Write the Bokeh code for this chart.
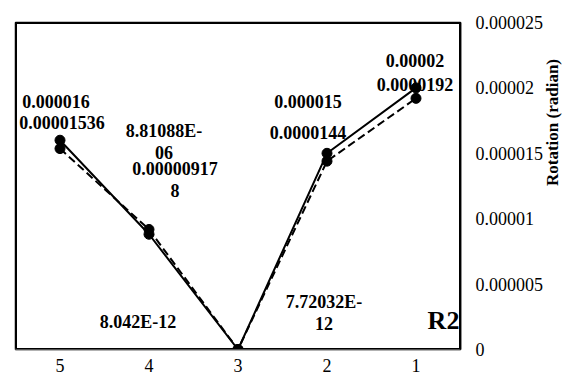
import math
from bokeh.plotting import figure
from bokeh.models import (ColumnDataSource, FactorRange, Range1d, FixedTicker, Label,
                          BoxAnnotation)
from bokeh.core.properties import value
from bokeh.embed import file_html
from bokeh.resources import INLINE

# ---- data ----
categories = ["5", "4", "3", "2", "1"]
solid_values = [0.000016, 8.81088e-06, 8.042e-12, 0.000015, 0.00002]
dashed_values = [0.00001536, 0.000009178, 7.72032e-12, 0.0000144, 0.0000192]
solid_labels = ["0.000016", "8.81088E-06", "8.042E-12", "0.000015", "0.00002"]
dashed_labels = ["0.00001536", "0.000009178", "7.72032E-12", "0.0000144", "0.0000192"]
y_ticks = [0, 0.000005, 0.00001, 0.000015, 0.00002, 0.000025]
y_tick_labels = ["0", "0.000005", "0.00001", "0.000015", "0.00002", "0.000025"]
y_title = "Rotation  (radian)"
panel_tag = "R2"

# label placement offsets (screen px)
solid_dx = [-4, 15, -100, -19, -1]
solid_dy = [-39, -92, -27, -52, -27]
dashed_dx = [2, 26, 86, -19, -1]
dashed_dy = [-26, -49, -36, -29, -14]


def wrap(s):
    if len(s) > 10:
        if "E-" in s:
            i = s.index("E-") + 2
            return s[:i] + "\n" + s[i:]
        return s[:10] + "\n" + s[10:]
    return s


SERIF = value("Liberation Serif")

p = figure(width=574, height=383, x_range=FactorRange(*categories),
           y_range=Range1d(y_ticks[0], y_ticks[-1]), y_axis_location="right",
           output_backend="svg", toolbar_location=None,
           min_border_left=15, min_border_right=100, min_border_top=22, min_border_bottom=34)
p.outline_line_color = "black"
p.outline_line_width = 1.5
p.grid.visible = False
p.background_fill_color = "white"
p.border_fill_color = "white"

# right y axis
ya = p.yaxis[0]
ya.ticker = FixedTicker(ticks=y_ticks)
ya.major_label_overrides = {t: l for t, l in zip(y_ticks, y_tick_labels)}
ya.major_tick_line_color = None
ya.major_tick_out = 0
ya.major_tick_in = 0
ya.minor_tick_line_color = None
ya.minor_tick_out = 0
ya.axis_line_color = "black"
ya.axis_line_width = 1.5
ya.major_label_text_font = "Liberation Serif"
ya.major_label_text_font_size = "18px"
ya.major_label_text_color = "black"
ya.major_label_standoff = 15
ya.axis_label = y_title
ya.axis_label_text_font = "Liberation Serif"
ya.axis_label_text_font_style = "bold"
ya.axis_label_text_font_size = "17px"
ya.axis_label_text_color = "black"
ya.axis_label_standoff = 6
if hasattr(ya, "axis_label_orientation"):
    ya.axis_label_orientation = math.pi / 2

# bottom x axis
xa = p.xaxis[0]
xa.major_tick_line_color = None
xa.major_tick_out = 0
xa.major_tick_in = 0
xa.minor_tick_line_color = None
xa.axis_line_color = "#A6A6A6"
xa.axis_line_width = 2
xa.major_label_text_font = "Liberation Serif"
xa.major_label_text_font_size = "18px"
xa.major_label_text_color = "black"
xa.major_label_standoff = 9

# frame border drawn as an annotation box covering the whole frame
p.add_layout(BoxAnnotation(fill_color=None, fill_alpha=0, line_color="black",
                           line_width=3, line_alpha=1))

src = ColumnDataSource(dict(x=categories, s=solid_values, d=dashed_values,
                            sl=[wrap(t) for t in solid_labels], dl=[wrap(t) for t in dashed_labels],
                            sdx=solid_dx, sdy=solid_dy, ddx=dashed_dx, ddy=dashed_dy))

p.line("x", "d", source=src, line_color="black", line_width=2, line_dash="8 4")
p.line("x", "s", source=src, line_color="black", line_width=2)
p.scatter("x", "d", source=src, size=10, fill_color="black", line_color="black")
p.scatter("x", "s", source=src, size=10, fill_color="black", line_color="black")

p.text("x", "s", text="sl", source=src, x_offset="sdx", y_offset="sdy",
       text_font=SERIF, text_font_style="bold", text_font_size="18px",
       text_align="center", text_baseline="middle", text_line_height=1.1, text_color="black")
p.text("x", "d", text="dl", source=src, x_offset="ddx", y_offset="ddy",
       text_font=SERIF, text_font_style="bold", text_font_size="18px",
       text_align="center", text_baseline="middle", text_line_height=1.1, text_color="black")

p.add_layout(Label(x=428, y=29, x_units="screen", y_units="screen", text=panel_tag,
                   text_font="Liberation Serif", text_font_style="bold", text_font_size="26px",
                   text_align="center", text_baseline="middle", text_color="black"))

open("out.html", "w").write(file_html(p, INLINE))
